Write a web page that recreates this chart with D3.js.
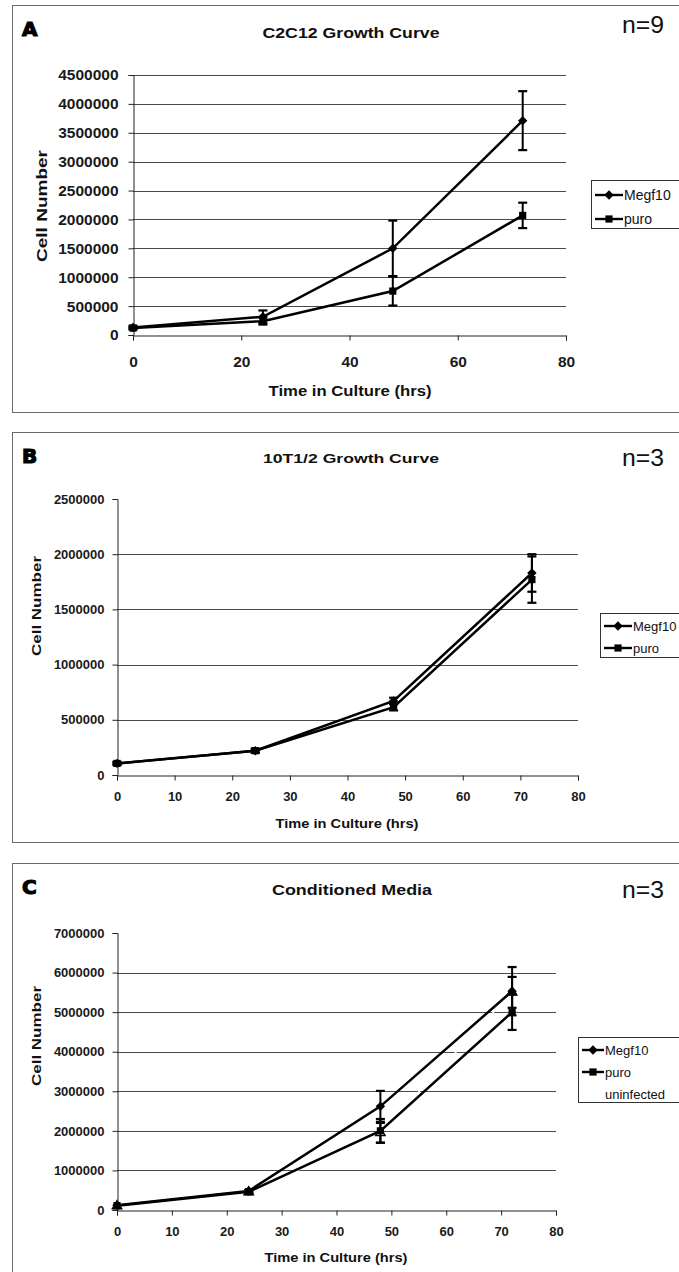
<!DOCTYPE html>
<html><head><meta charset="utf-8">
<script src="https://cdn.jsdelivr.net/npm/d3@7"></script>
<style>
html,body{margin:0;padding:0;background:#fff;}
svg{display:block;font-family:"Liberation Sans",Arial,sans-serif;}
</style></head>
<body>
<svg id="chart" width="679" height="1272"></svg>
<script>
// ---- data ----
const hours = [0, 24, 48, 72];

// Panel A: C2C12 growth curve (n=9)
const aMegf10 = [130000, 315000, 1500000, 3710000];
const aMegf10Err = [30000, 110000, 480000, 510000];
const aPuro = [120000, 240000, 760000, 2070000];
const aPuroErr = [20000, 60000, 250000, 220000];
const aYTicks = [0, 500000, 1000000, 1500000, 2000000, 2500000, 3000000, 3500000, 4000000, 4500000];
const aXTicks = [0, 20, 40, 60, 80];

// Panel B: 10T1/2 growth curve (n=3)
const bMegf10 = [105000, 220000, 670000, 1830000];
const bMegf10Err = [15000, 15000, 30000, 170000];
const bPuro = [105000, 220000, 615000, 1770000];
const bPuroErr = [10000, 20000, 30000, 210000];
const bYTicks = [0, 500000, 1000000, 1500000, 2000000, 2500000];
const bXTicks = [0, 10, 20, 30, 40, 50, 60, 70, 80];

// Panel C: conditioned media (n=3)
const cMegf10 = [120000, 480000, 2620000, 5530000];
const cMegf10Err = [0, 30000, 390000, 610000];
const cPuro = [110000, 460000, 2000000, 5000000];
const cPuroErr = [0, 30000, 300000, 450000];
const cUninfected = [100000, 450000, 1950000, 5500000];
const cUninfectedErr = [0, 20000, 250000, 390000];
const cYTicks = [0, 1000000, 2000000, 3000000, 4000000, 5000000, 6000000, 7000000];
const cXTicks = [0, 10, 20, 30, 40, 50, 60, 70, 80];

const seriesNames = ["Megf10", "puro", "uninfected"];

// ---- drawing ----
const svg = d3.select("#chart");
const FONT = '"Liberation Sans",Arial,sans-serif';

function marker(g, type, x, y) {
  if (type === "diamond") {
    g.append("path")
      .attr("d", d3.symbol().type(d3.symbolSquare).size(44)())
      .attr("transform", `translate(${x},${y}) rotate(45)`)
      .attr("fill", "#000");
  } else if (type === "square") {
    g.append("path")
      .attr("d", d3.symbol().type(d3.symbolSquare).size(52)())
      .attr("transform", `translate(${x},${y})`)
      .attr("fill", "#000");
  } else if (type === "triangle") {
    g.append("path")
      .attr("d", d3.symbol().type(d3.symbolTriangle).size(40)())
      .attr("transform", `translate(${x},${y})`)
      .attr("fill", "#fff").attr("stroke", "#000").attr("stroke-width", 1.3);
  }
}

function drawPanel(p) {
  const g = svg.append("g");
  // frame
  g.append("rect").attr("x", 12.5).attr("y", p.frameTop + 0.5).attr("width", 720).attr("height", p.frameH)
    .attr("fill", "none").attr("stroke", "#6a6a6a").attr("stroke-width", 1);
  // letter
  g.append("text").attr("x", 22).attr("y", p.frameTop + 31).text(p.letter)
    .attr("font-family", '"DejaVu Sans",Arial,sans-serif').attr("font-weight", "bold").attr("font-size", 20)
    .attr("fill", "#000").attr("stroke", "#000").attr("stroke-width", 1.2);
  // title
  g.append("text").attr("x", p.titleX).attr("y", p.titleY).attr("text-anchor", "middle")
    .attr("font-weight", "bold").attr("font-size", p.titleSize).attr("fill", "#111")
    .attr("textLength", p.titleLen).attr("lengthAdjust", "spacingAndGlyphs").text(p.title);
  // n=
  g.append("text").attr("x", 622).attr("y", p.nY).text(p.n)
    .attr("font-family", '"Liberation Sans Narrow","Liberation Sans",Arial,sans-serif')
    .attr("font-size", 23).attr("fill", "#111").attr("textLength", 42).attr("lengthAdjust", "spacingAndGlyphs");

  const x = d3.scaleLinear().domain([0, 80]).range([p.x0, p.x1]);
  const y = d3.scaleLinear().domain([0, p.yMax]).range([p.y0, p.y1]);

  // gridlines
  g.append("g").selectAll("line")
    .data(p.yTicks.filter(t => t > 0 && (p.topGrid || t < p.yMax)))
    .join("line")
    .attr("x1", p.x0).attr("x2", p.x1)
    .attr("y1", d => Math.round(y(d)) + 0.5).attr("y2", d => Math.round(y(d)) + 0.5)
    .attr("stroke", "#4a4a4a").attr("stroke-width", 1);

  // axes
  const yAxis = d3.axisLeft(y).tickValues(p.yTicks).tickSize(5).tickPadding(p.yPad).tickFormat(d3.format("d"));
  const ya = g.append("g").attr("transform", `translate(${p.x0 + 0.5},0)`).call(yAxis);
  ya.selectAll("text").attr("font-size", p.tickSize).attr("font-family", FONT).attr("font-weight", "bold").attr("fill", "#1a1a1a");
  ya.selectAll("path,line").attr("stroke", "#222");

  const xAxis = d3.axisBottom(x).tickValues(p.xTicks).tickSize(5).tickPadding(p.xPad).tickFormat(d3.format("d"));
  const xa = g.append("g").attr("transform", `translate(0,${p.y0 + 0.5})`).call(xAxis);
  xa.selectAll("text").attr("font-size", p.tickSize).attr("font-family", FONT).attr("font-weight", "bold").attr("fill", "#1a1a1a");
  xa.selectAll("path,line").attr("stroke", "#222");

  // axis titles
  g.append("text").attr("x", p.xTitleX).attr("y", p.xTitleY).attr("text-anchor", "middle")
    .attr("font-weight", "bold").attr("font-size", p.axTitleSize).attr("fill", "#111")
    .attr("textLength", p.xTitleLen).attr("lengthAdjust", "spacingAndGlyphs").text("Time in Culture (hrs)");
  g.append("text").attr("transform", `translate(${p.yTitleX},${p.yTitleY}) rotate(-90)`).attr("text-anchor", "middle")
    .attr("font-weight", "bold").attr("font-size", p.axTitleSize).attr("fill", "#111")
    .attr("textLength", p.yTitleLen).attr("lengthAdjust", "spacingAndGlyphs").text("Cell Number");

  const line = d3.line().x((d, i) => x(hours[i])).y(d => y(d));

  // series
  p.series.forEach(s => {
    const sg = g.append("g");
    sg.append("path").datum(s.values).attr("d", line)
      .attr("fill", "none").attr("stroke", s.color).attr("stroke-width", s.color === "#fff" ? 1.5 : 2.5);
    s.values.forEach((v, i) => {
      const e = s.err[i];
      if (!e) return;
      const cx = x(hours[i]);
      sg.append("line").attr("x1", cx).attr("x2", cx).attr("y1", y(v - e)).attr("y2", y(v + e))
        .attr("stroke", "#000").attr("stroke-width", 2);
      [v - e, v + e].forEach(b => {
        sg.append("line").attr("x1", cx - 4.5).attr("x2", cx + 4.5).attr("y1", y(b)).attr("y2", y(b))
          .attr("stroke", "#000").attr("stroke-width", 2.2);
      });
    });
    s.values.forEach((v, i) => marker(sg, s.marker, x(hours[i]), y(v)));
  });

  // legend
  const L = p.legend;
  g.append("rect").attr("x", L.x + 0.5).attr("y", L.y + 0.5).attr("width", 200).attr("height", L.h)
    .attr("fill", "#fff").attr("stroke", "#333").attr("stroke-width", 1);
  L.order.forEach((name, i) => {
    const s = p.series.find(d => d.name === name);
    const ly = L.y + L.first + i * L.step;
    g.append("line").attr("x1", L.x + 4).attr("x2", L.x + L.lineLen).attr("y1", ly).attr("y2", ly)
      .attr("stroke", s.color).attr("stroke-width", 2.4);
    if (s.marker !== "triangle") marker(g, s.marker, L.x + 4 + (L.lineLen - 4) / 2, ly);
    g.append("text").attr("x", L.x + L.lineLen + 1).attr("y", ly + 5).attr("font-size", L.font)
      .attr("fill", "#111").text(s.name);
  });
}

drawPanel({
  letter: "A", frameTop: 5, frameH: 407,
  title: "C2C12 Growth Curve", titleX: 351, titleY: 38, titleSize: 15, titleLen: 177,
  n: "n=9", nY: 33,
  x0: 133, x1: 566, y0: 335, y1: 75, yMax: 4500000, topGrid: true,
  yTicks: aYTicks, xTicks: aXTicks, tickSize: 15.5, yPad: 10, xPad: 15,
  xTitleX: 350, xTitleY: 396, xTitleLen: 163, yTitleX: 47, yTitleY: 206, yTitleLen: 112, axTitleSize: 15,
  series: [
    { name: seriesNames[0], values: aMegf10, err: aMegf10Err, marker: "diamond", color: "#000" },
    { name: seriesNames[1], values: aPuro, err: aPuroErr, marker: "square", color: "#000" }
  ],
  legend: { x: 591, y: 180, h: 48, first: 15, step: 24, lineLen: 32, font: 14, order: ["Megf10", "puro"] }
});

drawPanel({
  letter: "B", frameTop: 432, frameH: 410,
  title: "10T1/2 Growth Curve", titleX: 351, titleY: 463, titleSize: 13, titleLen: 176,
  n: "n=3", nY: 466,
  x0: 117, x1: 578, y0: 775, y1: 499, yMax: 2500000, topGrid: false,
  yTicks: bYTicks, xTicks: bXTicks, tickSize: 13, yPad: 8, xPad: 11,
  xTitleX: 347, xTitleY: 828, xTitleLen: 143, yTitleX: 41, yTitleY: 606, yTitleLen: 100, axTitleSize: 13,
  series: [
    { name: seriesNames[0], values: bMegf10, err: bMegf10Err, marker: "diamond", color: "#000" },
    { name: seriesNames[1], values: bPuro, err: bPuroErr, marker: "square", color: "#000" }
  ],
  legend: { x: 600, y: 613, h: 44, first: 13, step: 22, lineLen: 32, font: 13, order: ["Megf10", "puro"] }
});

drawPanel({
  letter: "C", frameTop: 863, frameH: 420,
  title: "Conditioned Media", titleX: 352, titleY: 895, titleSize: 14, titleLen: 160,
  n: "n=3", nY: 898,
  x0: 117, x1: 556, y0: 1210, y1: 933, yMax: 7000000, topGrid: false,
  yTicks: cYTicks, xTicks: cXTicks, tickSize: 13, yPad: 8, xPad: 11,
  xTitleX: 336, xTitleY: 1262, xTitleLen: 143, yTitleX: 41, yTitleY: 1036, yTitleLen: 100, axTitleSize: 13,
  series: [
    { name: seriesNames[2], values: cUninfected, err: cUninfectedErr, marker: "triangle", color: "#fff" },
    { name: seriesNames[0], values: cMegf10, err: cMegf10Err, marker: "diamond", color: "#000" },
    { name: seriesNames[1], values: cPuro, err: cPuroErr, marker: "square", color: "#000" }
  ],
  legend: { x: 578, y: 1037, h: 65, first: 13, step: 22, lineLen: 26, font: 13, order: ["Megf10", "puro", "uninfected"] }
});
</script>
</body></html>
